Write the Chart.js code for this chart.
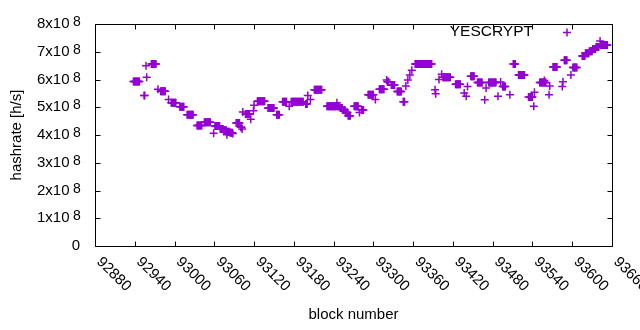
<!DOCTYPE html>
<html><head><meta charset="utf-8">
<script src="https://cdn.jsdelivr.net/npm/chart.js@4/dist/chart.umd.min.js"></script>
<style>html,body{margin:0;padding:0;background:#fff}canvas{display:block}</style>
</head><body>
<canvas id="c" width="640" height="330"></canvas>
<script>
// runs of consecutive blocks sharing one hashrate estimate (value in units of 1e8 h/s)
const runStart = [92938,92954,92957,92958,92965,92975,92979,92991,92995,93008,93019,93034,93045,93059,93061,93069,93074,93079,93080,93084,93088,93093,93100,93102,93103,93107,93115,93119,93120,93125,93141,93154,93163,93173,93176,93198,93201,93205,93211,93230,93245,93246,93250,93254,93258,93262,93271,93279,93282,93292,93303,93309,93320,93321,93327,93336,93345,93349,93352,93355,93358,93363,93393,93394,93399,93403,93405,93424,93437,93440,93442,93447,93457,93468,93470,93474,93488,93492,93495,93506,93511,93519,93534,93536,93542,93543,93551,93558,93565,93566,93571,93585,93586,93588,93598,93601,93615,93620,93626,93631,93636,93642,93643];
const runEnd   = [92947,92955,92957,92958,92972,92975,92986,92991,93002,93014,93028,93041,93054,93059,93068,93073,93078,93079,93083,93087,93088,93098,93101,93102,93103,93113,93115,93119,93120,93136,93150,93158,93169,93173,93194,93200,93201,93205,93222,93244,93245,93248,93253,93257,93261,93265,93277,93279,93285,93300,93303,93316,93320,93323,93332,93342,93347,93349,93352,93355,93358,93388,93393,93394,93399,93403,93416,93431,93437,93440,93442,93452,93464,93468,93470,93485,93488,93492,93499,93506,93514,93528,93534,93540,93542,93543,93560,93558,93565,93566,93577,93585,93586,93592,93598,93607,93619,93625,93630,93635,93640,93642,93653];
const runValue = [5.93,5.42,6.50,6.08,6.56,5.65,5.58,5.28,5.16,5.02,4.73,4.34,4.46,4.06,4.32,4.22,4.17,4.01,4.12,4.08,4.05,4.43,4.28,4.22,4.83,4.76,4.57,4.87,5.07,5.22,4.97,4.73,5.20,5.04,5.20,5.12,5.42,5.28,5.63,5.04,5.16,5.04,4.97,4.90,4.81,4.69,5.04,4.81,4.90,5.45,5.28,5.65,5.98,5.92,5.80,5.57,5.20,5.77,5.98,6.16,6.33,6.56,5.63,5.49,6.00,6.19,6.08,5.83,5.51,5.40,5.75,6.12,5.89,5.27,5.69,5.89,5.40,5.91,5.75,5.45,6.56,6.16,5.37,5.37,5.04,5.54,5.89,5.96,5.45,5.77,6.45,5.75,5.92,6.69,6.16,6.43,6.85,6.95,7.02,7.10,7.17,7.39,7.24];
const xTickValues = [92880,92940,93000,93060,93120,93180,93240,93300,93360,93420,93480,93540,93600,93660];
const yTickMantissa = [0,1,2,3,4,5,6,7,8];
const yExponent = 8;
const seriesName = 'YESCRYPT';

const points = [];
for (let i = 0; i < runStart.length; i++) {
  for (let b = runStart[i]; b <= runEnd[i]; b++) points.push({x: b, y: runValue[i] * Math.pow(10, yExponent)});
}

const FONT = 'Liberation Sans, Arial, sans-serif';
const PURPLE = '#9400D3';

const gnuplotFrame = {
  id: 'gnuplotFrame',
  afterDatasetsDraw(chart) {
    const {ctx, chartArea: a, scales: {x, y}} = chart;
    ctx.save();
    ctx.strokeStyle = '#000';
    ctx.lineWidth = 1;
    ctx.beginPath();
    const L = Math.round(a.left) + 0.5, R = Math.round(a.right) + 0.5, T = Math.round(a.top) + 0.5, B = Math.round(a.bottom) + 0.5;
    ctx.rect(L, T, R - L, B - T);
    const tl = 5;
    xTickValues.forEach(v => {
      const px = Math.round(x.getPixelForValue(v)) + 0.5;
      ctx.moveTo(px, B); ctx.lineTo(px, B - tl);
      ctx.moveTo(px, T); ctx.lineTo(px, T + tl);
    });
    yTickMantissa.forEach(m => {
      const py = Math.round(y.getPixelForValue(m * Math.pow(10, yExponent))) + 0.5;
      ctx.moveTo(L, py); ctx.lineTo(L + tl, py);
      ctx.moveTo(R, py); ctx.lineTo(R - tl, py);
    });
    ctx.stroke();

    // x tick labels, rotated clockwise by 45 degrees, starting at the tick
    ctx.fillStyle = '#000';
    ctx.font = '15px ' + FONT;
    ctx.textAlign = 'left';
    ctx.textBaseline = 'middle';
    xTickValues.forEach(v => {
      const px = x.getPixelForValue(v);
      ctx.save();
      ctx.translate(px + 4, B + 13);
      ctx.rotate(Math.PI / 4);
      ctx.fillText(String(v), 0, 0);
      ctx.restore();
    });

    // exponents of the y tick labels
    ctx.font = '14px ' + FONT;
    ctx.textBaseline = 'alphabetic';
    yTickMantissa.forEach(m => {
      if (m === 0) return;
      const py = y.getPixelForValue(m * Math.pow(10, yExponent));
      ctx.fillText(String(yExponent), 73, py + 2);
    });

    // key
    ctx.font = '15.5px ' + FONT;
    ctx.textAlign = 'right';
    ctx.textBaseline = 'middle';
    ctx.fillText(seriesName, 533, 32);
    ctx.strokeStyle = PURPLE;
    ctx.lineWidth = 1.5;
    ctx.beginPath();
    ctx.moveTo(563, 32.5); ctx.lineTo(571, 32.5);
    ctx.moveTo(567, 28.5); ctx.lineTo(567, 36.5);
    ctx.stroke();
    ctx.restore();
  }
};

new Chart(document.getElementById('c'), {
  type: 'scatter',
  data: {
    datasets: [{
      label: seriesName,
      data: points,
      pointStyle: 'cross',
      pointRadius: 4,
      borderWidth: 1.5,
      borderColor: PURPLE,
      backgroundColor: PURPLE,
      showLine: false,
      clip: false
    }]
  },
  options: {
    responsive: false,
    animation: false,
    devicePixelRatio: 1,
    layout: {padding: {top: 19, right: 28, left: 0, bottom: 0}},
    plugins: {legend: {display: false}, tooltip: {enabled: false}},
    scales: {
      x: {
        type: 'linear', min: 92880, max: 93660,
        afterBuildTicks: s => { s.ticks = xTickValues.map(v => ({value: v})); },
        afterFit: s => { s.height = 84; },
        ticks: {display: false},
        grid: {display: false, drawTicks: false},
        border: {display: false},
        title: {display: true, text: 'block number', color: '#000', font: {family: FONT, size: 15}, padding: {top: 0, bottom: 6}}
      },
      y: {
        min: 0, max: 8e8,
        afterBuildTicks: s => { s.ticks = yTickMantissa.map(m => ({value: m * Math.pow(10, yExponent)})); },
        afterFit: s => { s.width = 95; },
        ticks: {
          color: '#000', font: {family: FONT, size: 15}, padding: 15,
          callback: v => v === 0 ? '0' : Math.round(v / Math.pow(10, yExponent)) + 'x10\u2002\u2009'
        },
        grid: {display: false, drawTicks: false, tickLength: 0},
        border: {display: false},
        title: {display: true, text: 'hashrate [h/s]', color: '#000', font: {family: FONT, size: 15}, padding: {top: 8, bottom: 0}}
      }
    }
  },
  plugins: [gnuplotFrame]
});
</script>
</body></html>
